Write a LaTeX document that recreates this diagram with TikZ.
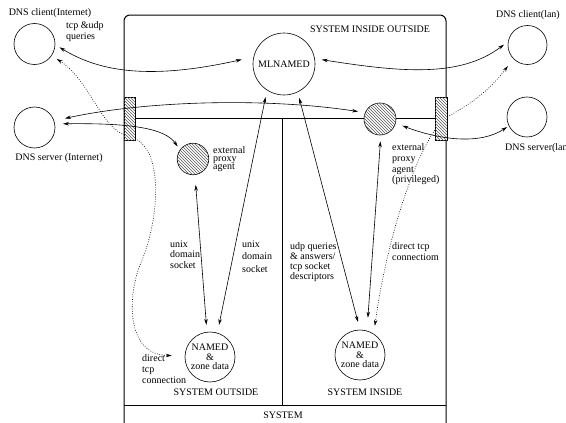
\documentclass[tikz,border=0pt]{standalone}
\usepackage{fontspec}
\setmainfont{Liberation Serif}
\usetikzlibrary{arrows.meta,patterns,positioning}

\newcommand{\linesat}[1]{\fontsize{10}{#1}\selectfont\lineskiplimit=-20pt\relax}

\begin{document}
\begin{tikzpicture}[x=1pt,y=-1pt,
    wall/.style={line width=1pt},
    host/.style={circle, draw, line width=0.6pt, inner sep=0pt},
    proxy/.style={host, fill=white, postaction={pattern=north west lines, pattern color=black!65}},
    hatchbox/.style={draw, line width=0.6pt, fill=white, postaction={pattern=north west lines, pattern color=black!65}},
    lbl/.style={inner sep=0pt, align=left, anchor=north west},
    link/.style={line width=0.6pt, {Stealth[length=6pt,width=3.5pt]}-{Stealth[length=6pt,width=3.5pt]}},
    dotlink/.style={link, dash pattern=on 0.8pt off 1.6pt}]

    \useasboundingbox (0,0) rectangle (566,423);

    % the machine and its two halves
    \draw[wall, rounded corners=6pt] (124,440) -- (124,15) -- (446,15) -- (446,440);
    \draw[wall] (135,118) -- (435,118);
    \draw[wall] (282,118) -- (282,405);
    \draw[wall] (124,405) -- (446,405);

    \node (sysIO) at (370,29) {SYSTEM INSIDE OUTSIDE};
    \node (sysOut) at (216,392) {SYSTEM OUTSIDE};
    \node (sysIn) at (365,392) {SYSTEM INSIDE};
    \node (sys) at (283,415) {SYSTEM};

    % hosts outside the machine
    \node[host, minimum size=41pt] (cliInet) at (34.5,44) {};
    \node[host, minimum size=41pt] (srvInet) at (34.5,127.5) {};
    \node[host, minimum size=39pt] (cliLan) at (527.5,45) {};
    \node[host, minimum size=40pt] (srvLan) at (527,117) {};

    \node (cliInetLbl) at (50,13) {DNS client(Internet)};
    \node (srvInetLbl) at (59,158) {DNS server (Internet)};
    \node (cliLanLbl) at (528,15) {DNS client(lan)};
    \node[anchor=west, inner sep=0pt] (srvLanLbl) at (505,148) {DNS server(lan)};
    \node[lbl, font=\linesat{11}] (queriesLbl) at (66,21) {tcp \&udp\\queries};

    % daemons and proxies
    \node[host, minimum size=62pt] (mlnamed) at (284,64) {MLNAMED};
    \node[host, minimum size=50pt, align=center, font=\linesat{9.5}] (namedOut) at (210,357) {NAMED\\\&\\zone data};
    \node[host, minimum size=50pt, align=center, font=\linesat{9.5}] (namedIn) at (360,355) {NAMED\\\&\\zone data};
    \node[proxy, minimum size=31.5pt] (proxyOut) at (193,159) {};
    \node[proxy, minimum size=32pt] (proxyIn) at (380,119) {};

    \node[lbl, font=\linesat{8}] (proxyOutLbl) at (213,146) {external\\proxy\\agent};
    \node[lbl, font=\linesat{10.7}] (proxyInLbl) at (392,143.5) {external\\proxy\\agent\\(privileged)};
    \node[lbl, font=\linesat{10.5}] (unixOutLbl) at (170,240.5) {unix\\domain\\socket};
    \node[lbl, font=\linesat{12.5}] (unixMlLbl) at (242,240.5) {unix\\domain\\socket};
    \node[lbl, font=\linesat{10}] (udpLbl) at (290,242.5) {udp queries\\\& answers/\\tcp socket\\descriptors};
    \node[lbl, font=\linesat{11}] (directInLbl) at (392,242.5) {direct tcp\\connectiom};
    \node[lbl, font=\linesat{11}] (directOutLbl) at (142,354.5) {direct\\tcp\\connection};

    % direct tcp connections
    \draw[dotlink, shorten <=6pt, shorten >=13pt] (cliInet.-34) .. controls (92,82) and (100,130) .. (130,137)
        .. controls (165,145) and (160,220) .. (140,265) .. controls (128,295) and (125,355) .. (namedOut.177);
    \draw[dotlink, shorten <=8pt, shorten >=9pt] (namedIn.57) .. controls (388,230) and (420,140) .. (445,118)
        .. controls (470,105) and (490,90) .. (cliLan.224);

    % the two doors
    \draw[hatchbox] (124,97) rectangle (135,140);
    \draw[hatchbox] (435,97) rectangle (447,140);

    \draw[link, shorten <=5pt, shorten >=12pt] (cliInet.-2) .. controls (100,72) and (150,80) .. (mlnamed.167);
    \draw[link, shorten <=7pt, shorten >=5pt] (mlnamed.10) .. controls (400,72) and (460,78) .. (cliLan.170);
    \draw[link, shorten <=11pt, shorten >=7pt] (srvInet.19) .. controls (150,100) and (270,98) .. (proxyIn.157);
    \draw[link, shorten <=8pt, shorten >=4pt] (srvInet.10) .. controls (130,123) and (165,128) .. (proxyOut.145);
    \draw[link, shorten <=7pt, shorten >=2pt] (proxyIn.-15) .. controls (440,140) and (480,145) .. (srvLan.206);
    \draw[link, shorten <=10pt, shorten >=7pt] (proxyOut.-83) -- (namedOut.97);
    \draw[link, shorten <=8pt, shorten >=7pt] (namedOut.73) -- (mlnamed.-123);
    \draw[link, shorten <=6pt, shorten >=8pt] (mlnamed.-64) -- (namedIn.90);
    \draw[link, shorten <=6pt, shorten >=13pt] (proxyIn.-87) -- (namedIn.74);
\end{tikzpicture}
\end{document}
